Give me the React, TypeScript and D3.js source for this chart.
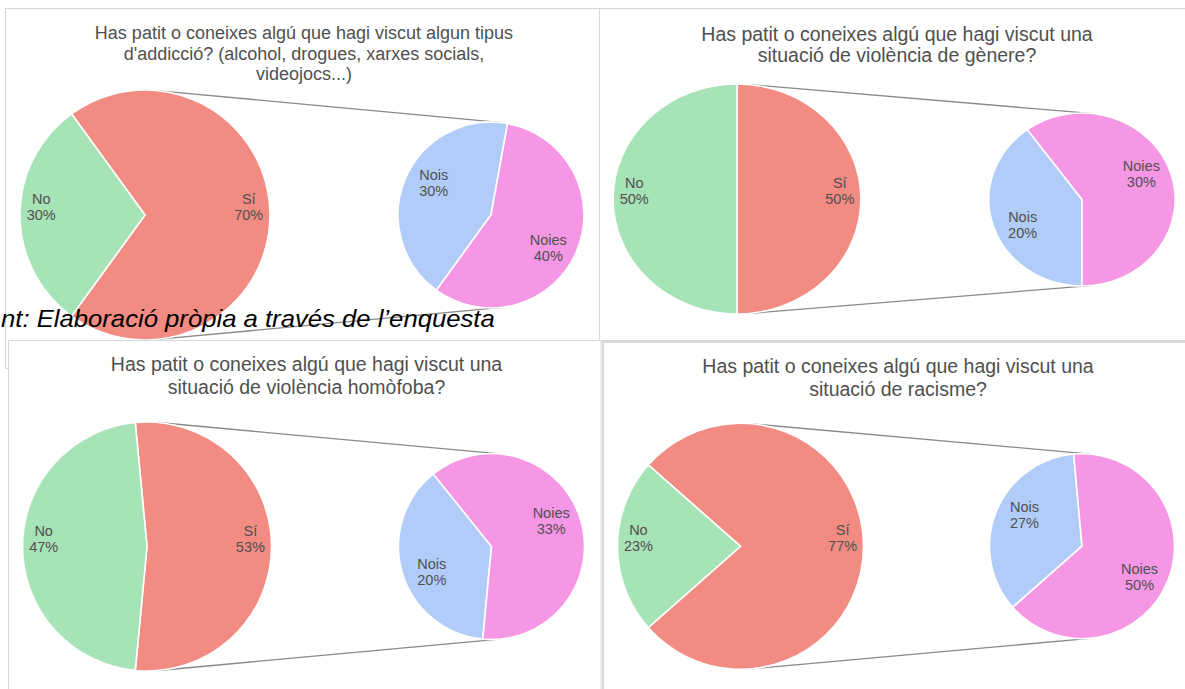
import React from "react";
import * as d3 from "d3";

// ---------- data ----------
const titles: string[][] = [
  ["Has patit o coneixes algú que hagi viscut algun tipus", "d'addicció? (alcohol, drogues, xarxes socials,", "videojocs...)"],
  ["Has patit o coneixes algú que hagi viscut una", "situació de violència de gènere?"],
  ["Has patit o coneixes algú que hagi viscut una", "situació de violència homòfoba?"],
  ["Has patit o coneixes algú que hagi viscut una", "situació de racisme?"],
];
const mainCategories = ["Sí", "No"];
const subCategories = ["Nois", "Noies"];
const siValues = [70, 50, 53, 77];
const noValues = [30, 50, 47, 23];
const noisValues = [30, 20, 20, 27];
const noiesValues = [40, 30, 33, 50];
const caption = "nt: Elaboració pròpia a través de l’enquesta";

// ---------- layout / style ----------
const W = 1185;
const H = 689;
const FONT = "'Liberation Sans', Arial, sans-serif";
const colors: Record<string, string> = {
  "Sí": "#f28b82",
  No: "#a6e3b7",
  Nois: "#b1ccf9",
  Noies: "#f597e4",
};
const TEXT = "#505050";
const LINE = "#8a8a8a";
const BORDER = "#d8d8d8";

type Layout = {
  panel: [number, number, number, number];
  bw: number;
  title: { x: number; y: number; size: number; lh: number };
  k: number;
  main: { cx: number; cy: number; r: number };
  sub: { cx: number; cy: number; r: number };
};

const layouts: Layout[] = [
  { panel: [5.5, 8.5, 594, 360], bw: 1, title: { x: 304, y: 39, size: 18, lh: 20.5 }, k: 1,
    main: { cx: 145, cy: 215, r: 125 }, sub: { cx: 491, cy: 215, r: 93 } },
  { panel: [599.5, 8.5, 600, 332], bw: 1, title: { x: 897, y: 41, size: 19.5, lh: 21 }, k: 1.077,
    main: { cx: 737, cy: 199, r: 115 }, sub: { cx: 1082, cy: 199.5, r: 86.5 } },
  { panel: [8.5, 340.5, 592.5, 360], bw: 1, title: { x: 306.5, y: 371, size: 19.5, lh: 23 }, k: 1,
    main: { cx: 147, cy: 546.5, r: 124.5 }, sub: { cx: 491.5, cy: 546.5, r: 93 } },
  { panel: [603, 342, 600, 360], bw: 2, title: { x: 898, y: 373, size: 19.5, lh: 23 }, k: 1,
    main: { cx: 740.5, cy: 546.3, r: 123 }, sub: { cx: 1082, cy: 546.2, r: 92.5 } },
];

type Datum = { name: string; v: number };

function tangents(L: Layout) {
  // work in circle space (x divided by k), then map back
  const c1 = [L.main.cx / L.k, L.main.cy];
  const c2 = [L.sub.cx / L.k, L.sub.cy];
  const r1 = L.main.r;
  const r2 = L.sub.r;
  const dx = c2[0] - c1[0];
  const dy = c2[1] - c1[1];
  const d = Math.hypot(dx, dy);
  const u = [dx / d, dy / d];
  const s = (r1 - r2) / d;
  const c = Math.sqrt(1 - s * s);
  const res: number[][] = [];
  for (const nrm of [[u[1], -u[0]], [-u[1], u[0]]]) {
    const m = [nrm[0] * c + u[0] * s, nrm[1] * c + u[1] * s];
    res.push([
      (c1[0] + r1 * m[0]) * L.k, c1[1] + r1 * m[1],
      (c2[0] + r2 * m[0]) * L.k, c2[1] + r2 * m[1],
    ]);
  }
  return res;
}

function PieGroup({ data, cx, cy, r, k, start, frac, labelSize }: {
  data: Datum[]; cx: number; cy: number; r: number; k: number; start: number; frac: number; labelSize: number;
}) {
  const pie = d3.pie<Datum>().sort(null).value((d) => d.v).startAngle(start).endAngle(start + 2 * Math.PI);
  const arcs = pie(data);
  const arc = d3.arc<d3.PieArcDatum<Datum>>().innerRadius(0).outerRadius(r);
  const lineGap = 16;
  return (
    <g>
      <g transform={`translate(${cx},${cy}) scale(${k},1)`}>
        {arcs.map((a, i) => (
          <path key={i} d={arc(a) || ""} fill={colors[a.data.name]} stroke="#ffffff" strokeWidth={1.6}
            vectorEffect="non-scaling-stroke" />
        ))}
      </g>
      {arcs.map((a, i) => {
        const mid = (a.startAngle + a.endAngle) / 2;
        const x = cx + k * frac * r * Math.sin(mid);
        const y = cy - frac * r * Math.cos(mid);
        const sign = y <= cy + 1 ? -1 : 1;
        const center = y + sign * (lineGap / 2);
        const b1 = center - lineGap / 2 + labelSize * 0.35;
        return (
          <text key={"t" + i} x={x} textAnchor="middle" fontFamily={FONT} fontSize={labelSize} fill={TEXT}>
            <tspan x={x} y={b1}>{a.data.name}</tspan>
            <tspan x={x} y={b1 + lineGap}>{`${a.data.v}%`}</tspan>
          </text>
        );
      })}
    </g>
  );
}

function Chart({ i }: { i: number }) {
  const L = layouts[i];
  const si = siValues[i];
  const no = noValues[i];
  const mainData: Datum[] = [
    { name: mainCategories[0], v: si },
    { name: mainCategories[1], v: no },
  ];
  const start = Math.PI / 2 - Math.PI * (si / (si + no));
  const mainArcs = d3.pie<Datum>().sort(null).value((d) => d.v).startAngle(start).endAngle(start + 2 * Math.PI)(mainData);
  const siEnd = mainArcs[0].endAngle;
  const subData: Datum[] = [
    { name: subCategories[0], v: noisValues[i] },
    { name: subCategories[1], v: noiesValues[i] },
  ];
  const t = tangents(L);
  return (
    <g>
      <text textAnchor="middle" fontFamily={FONT} fontSize={L.title.size} fill={TEXT}>
        {titles[i].map((line, j) => (
          <tspan key={j} x={L.title.x} y={L.title.y + j * L.title.lh}>{line}</tspan>
        ))}
      </text>
      {t.map((p, j) => (
        <line key={j} x1={p[0]} y1={p[1]} x2={p[2]} y2={p[3]} stroke={LINE} strokeWidth={1.3} />
      ))}
      <PieGroup data={mainData} cx={L.main.cx} cy={L.main.cy} r={L.main.r} k={L.k} start={start} frac={0.83} labelSize={14.5} />
      <PieGroup data={subData} cx={L.sub.cx} cy={L.sub.cy} r={L.sub.r} k={L.k} start={siEnd} frac={0.67} labelSize={14.5} />
    </g>
  );
}

function Panel({ i }: { i: number }) {
  const [x, y, w, h] = layouts[i].panel;
  return <rect x={x} y={y} width={w} height={h} fill="#ffffff" stroke={BORDER} strokeWidth={layouts[i].bw} />;
}

export default function App() {
  return (
    <div style={{ position: "absolute", left: 0, top: 0, width: W, height: H, background: "#ffffff" }}>
      <svg width={W} height={H} style={{ display: "block" }}>
        <rect x={0} y={0} width={W} height={H} fill="#ffffff" />
        <Panel i={0} />
        <Panel i={1} />
        <Chart i={0} />
        <Chart i={1} />
        <text transform="translate(1,327) scale(1.07,1)" fontFamily={FONT} fontStyle="italic" fontSize={24} fill="#000000">
          {caption}
        </text>
        <Panel i={2} />
        <Panel i={3} />
        <Chart i={2} />
        <Chart i={3} />
      </svg>
    </div>
  );
}
